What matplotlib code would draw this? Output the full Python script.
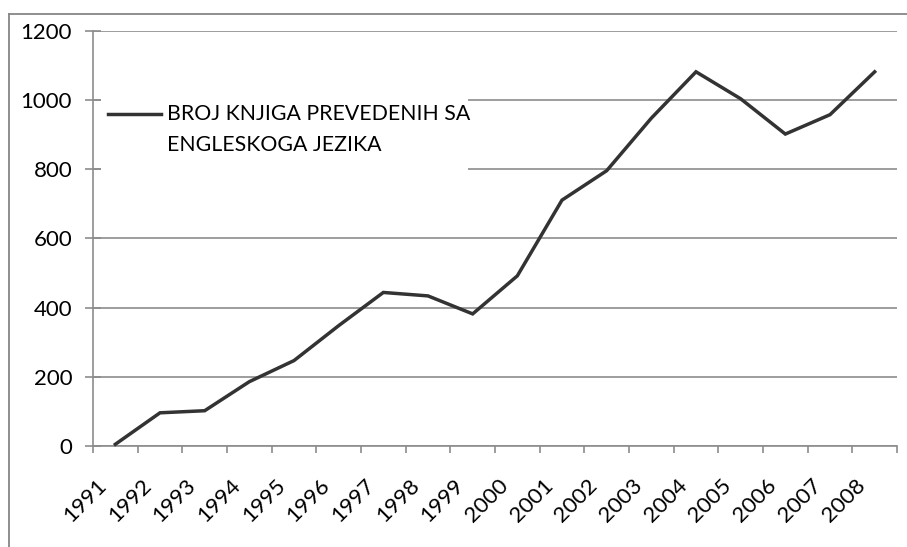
import matplotlib
matplotlib.use("Agg")
import matplotlib.pyplot as plt
from matplotlib.lines import Line2D
from matplotlib.patches import Rectangle
from matplotlib.legend_handler import HandlerLine2D
from matplotlib.transforms import ScaledTranslation

years = ["1991", "1992", "1993", "1994", "1995", "1996", "1997", "1998", "1999",
         "2000", "2001", "2002", "2003", "2004", "2005", "2006", "2007", "2008"]
books = [5, 96, 102, 186, 247, 348, 444, 434, 382,
         492, 711, 796, 948, 1082, 1004, 902, 958, 1082]
series_label = "BROJ KNJIGA PREVEDENIH SA\nENGLESKOGA JEZIKA"
y_ticks = [0, 200, 400, 600, 800, 1000, 1200]

plt.rcParams['font.family'] = ['Lato', 'DejaVu Sans']
FS = 16
LFS = 15.3

W, H = 907, 547
fig = plt.figure(figsize=(W / 100, H / 100), dpi=100)
fig.patch.set_facecolor('white')

L, R, T, B = 93, 897, 31, 446
ax = fig.add_axes([L / W, 1 - B / H, (R - L) / W, (B - T) / H])

x = list(range(len(years)))
ax.plot(x, books, color='#333333', lw=2.5, solid_joinstyle='miter', label=series_label,
        zorder=3, clip_on=False)

ax.set_xlim(-0.5, len(years) - 0.5)
ax.set_ylim(0, 1200)
ax.set_yticks(y_ticks)
ax.set_yticklabels([str(v) for v in y_ticks], fontsize=FS)
ax.yaxis.grid(True, color='#8c8c8c', lw=1.2)
ax.set_axisbelow(True)

# category boundaries as major ticks, labels at centres as minor ticks
ax.set_xticks([i - 0.5 for i in range(len(years) + 1)])
ax.set_xticklabels([])
ax.set_xticks(x, minor=True)
ax.set_xticklabels(years, minor=True, fontsize=FS, rotation=45, ha='right',
                   va='center', rotation_mode='anchor')
ax.tick_params(axis='x', which='major', direction='out', length=5, width=1.2, color='#8c8c8c')
ax.tick_params(axis='x', which='minor', length=0, pad=26)
ax.tick_params(axis='y', direction='inout', length=11, width=1.2, color='#8c8c8c', pad=9.5)
off = ScaledTranslation(-12 / 100, 0, fig.dpi_scale_trans)
for lab in ax.get_xticklabels(minor=True):
    lab.set_transform(lab.get_transform() + off)

for s in ['top', 'right']:
    ax.spines[s].set_visible(False)
for s in ['left', 'bottom']:
    ax.spines[s].set_color('#8c8c8c')
    ax.spines[s].set_linewidth(1.2)


class TopHandler(HandlerLine2D):
    def create_artists(self, legend, orig_handle, xdescent, ydescent, width, height,
                       fontsize, trans):
        arts = super().create_artists(legend, orig_handle, xdescent, ydescent, width,
                                      height, fontsize, trans)
        for a in arts:
            if isinstance(a, Line2D):
                a.set_ydata([v + 11.5 for v in a.get_ydata()])
        return arts


# white legend area covering the gridlines
ax.add_patch(Rectangle((101 / W, 1 - 186 / H), 367 / W, 101 / H, transform=fig.transFigure,
                       facecolor='white', edgecolor='none', zorder=2))

leg = ax.legend(loc='upper left', bbox_to_anchor=(108 / W, 1 - 104 / H),
                bbox_transform=fig.transFigure, fontsize=LFS, frameon=False,
                handlelength=2.5, handletextpad=0.28, borderpad=0, borderaxespad=0,
                handler_map={Line2D: TopHandler()})
for t in leg.get_texts():
    t.set_linespacing(1.7)

# outer chart frame (left and top edges visible)
fig.add_artist(Line2D([9 / W, 9 / W], [0, 1 - 14 / H], transform=fig.transFigure,
                      color='#868686', lw=1.3))
fig.add_artist(Line2D([9 / W, 1], [1 - 14 / H, 1 - 14 / H], transform=fig.transFigure,
                      color='#868686', lw=1.3))

fig.savefig('out.png', dpi=100, facecolor='white')
